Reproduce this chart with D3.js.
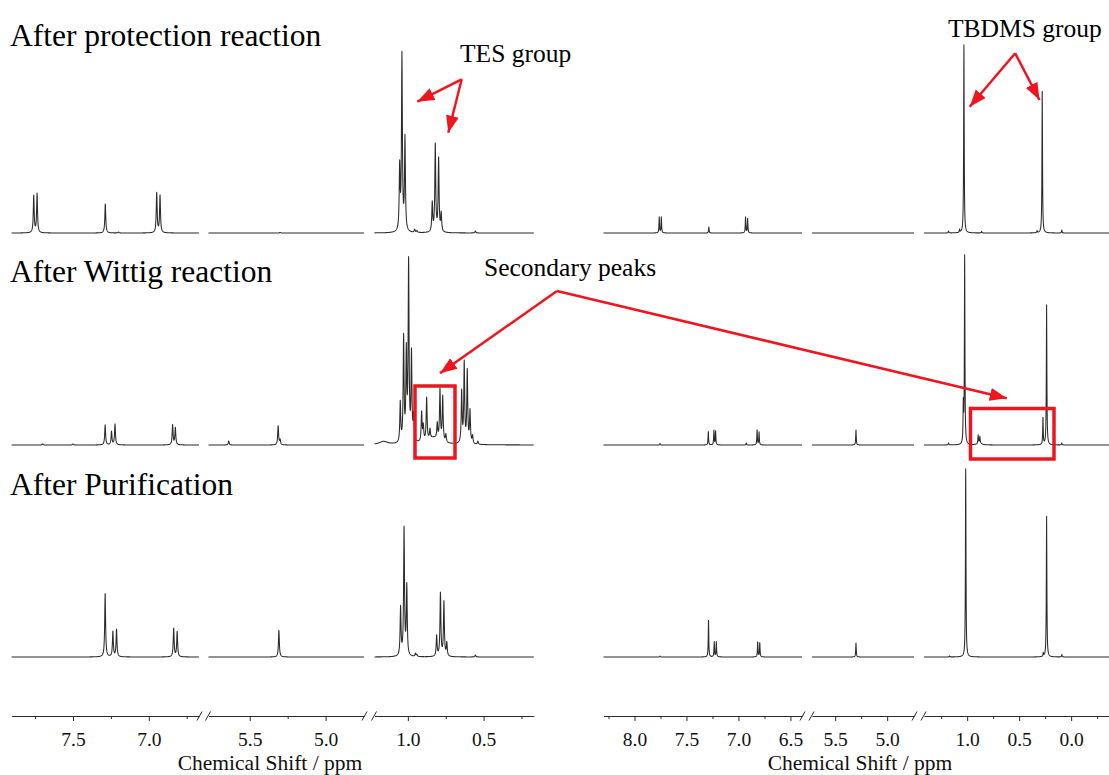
<!DOCTYPE html>
<html><head><meta charset="utf-8">
<script src="https://cdn.jsdelivr.net/npm/d3@7"></script>
<style>body{margin:0;background:#fff} svg{display:block;font-family:"Liberation Serif","Times New Roman",serif}</style>
</head><body><svg id="c" width="1109" height="775"></svg>
<script>
// ---------------- DATA ----------------
const rowTitles = ["After protection reaction", "After Wittig reaction", "After Purification"];
const axisTitle = "Chemical Shift / ppm";

// ppm domains of the broken-axis segments
const leftSegmentDomains  = [[7.905, 6.669], [5.772, 4.747], [1.220, 0.169]];
const rightSegmentDomains = [[8.298, 6.389], [5.723, 4.742], [1.415, -0.364]];

const leftMajorTicks  = [[7.5, 7.0], [5.5, 5.0], [1.0, 0.5]];
const leftMinorTicks  = [[7.75, 7.25, 6.75], [5.25], [0.75, 0.25]];
const rightMajorTicks = [[8.0, 7.5, 7.0, 6.5], [5.5, 5.0], [1.0, 0.5, 0.0]];
const rightMinorTicks = [[8.25, 7.75, 7.25, 6.75], [5.25], [1.25, 0.75, 0.25, -0.25]];

// peaks: [ppm, height (% of full scale), optional half-width in ppm]
const leftProtectionPeaks = [
  [7.759, 19.5], [7.737, 20.5], [7.287, 15.3], [7.20, 0.5], [6.948, 20.9], [6.926, 19.6],
  [5.30, 0.3],
  [1.054, 33.2], [1.039, 92.5], [1.019, 48.9], [0.955, 1.6], [0.94, 1.0],
  [0.839, 15.3], [0.819, 45.8], [0.797, 38.4], [0.780, 9.5], [0.555, 1.0]
];
const leftWittigPeaks = [
  [7.70, 0.6], [7.50, 0.6], [7.288, 10.5], [7.246, 7.0], [7.223, 11.0], [6.843, 10.5], [6.825, 9.0],
  [5.639, 2.1], [5.313, 10.0], [5.300, 2.6],
  [1.16, 1.7, 0.035], [1.050, 21], [1.028, 55], [1.010, 46], [0.995, 94], [0.976, 46], [0.962, 13],
  [0.83, 3.5, 0.05], [0.909, 15.5], [0.898, 8], [0.876, 22.5], [0.854, 5], [0.806, 8], [0.788, 26.5], [0.770, 23.5], [0.749, 4],
  [0.645, 27], [0.628, 42], [0.608, 38], [0.590, 17], [0.573, 4], [0.538, 1.6]
];
const leftPurificationPeaks = [
  [7.288, 33.3], [7.237, 13.2], [7.213, 14.4], [6.836, 14.9], [6.813, 13.2],
  [5.308, 14.0],
  [1.048, 25.4], [1.025, 67.0], [1.007, 36.5], [0.95, 1.6], [0.94, 1.0],
  [0.810, 10.9], [0.785, 33.3], [0.762, 28.6], [0.743, 7.0], [0.555, 1.0]
];
const rightProtectionPeaks = [
  [7.762, 8.3], [7.742, 8.3], [7.285, 3.2], [6.932, 8.4], [6.912, 7.5],
  [1.18, 1.0], [1.072, 1.6], [1.031, 99.1], [0.862, 0.8], [0.328, 1.0], [0.278, 74.6], [0.09, 1.6]
];
const rightWittigPeaks = [
  [7.755, 0.8], [7.290, 7.0], [7.236, 7.6], [7.220, 7.2], [6.925, 1.0], [6.821, 7.9], [6.802, 6.8],
  [5.300, 7.9],
  [1.18, 1.0], [1.037, 20], [1.024, 99.1], [0.894, 4.4], [0.878, 3.2], [0.88, 1.2, 0.02],
  [0.271, 14], [0.236, 73.7], [0.09, 1.0]
];
const rightPurificationPeaks = [
  [7.755, 0.5], [7.288, 19.3], [7.233, 7.9], [7.213, 7.9], [6.815, 7.9], [6.795, 7.4],
  [5.300, 7.4],
  [1.17, 0.5], [1.014, 99.1], [0.268, 1.8], [0.236, 74.0], [0.089, 1.3]
];

// ---------------- LAYOUT ----------------
const svg = d3.select("#c");
const red = "#f0141e";
const ink = "#2b2b2b";
const rowBaselines = [233, 445, 657];
const fullScalePx = 190;
const axisY = 716;

const leftRanges  = [[11.6, 199], [208.5, 364], [374.5, 533.8]];
const rightRanges = [[603.5, 802], [812, 914], [924, 1109]];

function lorentzSum(peaks, x, defW) {
  let s = 0;
  for (const p of peaks) {
    const w = p[2] || defW;
    const d = x - p[0];
    s += p[1] * w * w / (d * d + w * w);
  }
  return s;
}

function drawPanel(domains, ranges, rowsPeaks, major, minor, defW, labelX) {
  const scales = domains.map((d, i) => d3.scaleLinear().domain(d).range(ranges[i]));
  rowsPeaks.forEach((peaks, r) => {
    const ys = d3.scaleLinear().domain([0, 100]).range([rowBaselines[r], rowBaselines[r] - fullScalePx]);
    scales.forEach((xs, i) => {
      const [d0, d1] = xs.domain();
      const n = Math.round((ranges[i][1] - ranges[i][0]) * 5);
      const local = peaks.filter(p => p[0] <= d0 + 0.2 && p[0] >= d1 - 0.2);
      const xsVals = d3.range(n + 1).map(k => d0 + (d1 - d0) * k / n)
        .concat(local.filter(p => p[0] <= d0 && p[0] >= d1).map(p => p[0]))
        .sort((a, b) => b - a);
      const pts = xsVals.map(x => [x, lorentzSum(local, x, defW)]);
      svg.append("path")
        .attr("d", d3.line().x(d => xs(d[0])).y(d => ys(d[1]))(pts))
        .attr("fill", "none").attr("stroke", ink).attr("stroke-width", 1.05)
        .attr("stroke-linejoin", "round");
    });
  });
  // axes
  scales.forEach((xs, i) => {
    const g = svg.append("g").attr("transform", `translate(0,${axisY})`);
    g.call(d3.axisBottom(xs).tickValues(major[i]).tickSize(5).tickSizeOuter(0).tickFormat(d3.format(".1f")));
    g.select(".domain").attr("stroke", ink);
    g.selectAll(".tick line").attr("stroke", ink);
    g.selectAll(".tick text").attr("fill", "#111").attr("font-size", 19.5)
      .attr("font-family", "Liberation Serif, serif").attr("y", 16);
    const gm = svg.append("g").attr("transform", `translate(0,${axisY})`);
    gm.call(d3.axisBottom(xs).tickValues(minor[i]).tickSize(3).tickSizeOuter(0).tickFormat(""));
    gm.select(".domain").remove();
    gm.selectAll(".tick line").attr("stroke", ink);
  });
  // break marks
  for (let i = 0; i < ranges.length - 1; i++) {
    const a = ranges[i][1], b = ranges[i + 1][0];
    [[a - 2, a + 3], [b - 3, b + 2]].forEach(([x0, x1]) => {
      svg.append("line").attr("x1", x0).attr("y1", axisY + 4.5).attr("x2", x1).attr("y2", axisY - 4.5)
        .attr("stroke", ink).attr("stroke-width", 1);
    });
  }
  svg.append("text").attr("x", labelX).attr("y", 770).attr("text-anchor", "middle")
    .attr("font-size", 21.5).attr("fill", "#111").text(axisTitle);
}

drawPanel(leftSegmentDomains, leftRanges,
  [leftProtectionPeaks, leftWittigPeaks, leftPurificationPeaks],
  leftMajorTicks, leftMinorTicks, 0.0035, 270);
drawPanel(rightSegmentDomains, rightRanges,
  [rightProtectionPeaks, rightWittigPeaks, rightPurificationPeaks],
  rightMajorTicks, rightMinorTicks, 0.003, 860);

// row titles
const titleBaselines = [46, 282, 495];
rowTitles.forEach((t, i) => {
  svg.append("text").attr("x", 10).attr("y", titleBaselines[i]).attr("font-size", 31.5).attr("fill", "#000").text(t);
});

// annotations
svg.append("defs").append("marker").attr("id", "ah")
  .attr("viewBox", "0 -7 17 14").attr("refX", 17).attr("refY", 0)
  .attr("markerWidth", 17).attr("markerHeight", 14).attr("markerUnits", "userSpaceOnUse")
  .attr("orient", "auto")
  .append("path").attr("d", "M0,-6.5L17,0L0,6.5Z").attr("fill", red);

function arrow(x0, y0, x1, y1) {
  svg.append("line").attr("x1", x0).attr("y1", y0).attr("x2", x1).attr("y2", y1)
    .attr("stroke", red).attr("stroke-width", 2.5).attr("marker-end", "url(#ah)");
}
function label(x, y, t) {
  svg.append("text").attr("x", x).attr("y", y).attr("font-size", 25.5).attr("fill", "#000").text(t);
}
label(460, 62, "TES group");
arrow(461.7, 79.3, 417.3, 101.7);
arrow(461.7, 79.3, 448.3, 132.7);

label(948, 36.5, "TBDMS group");
arrow(1015.2, 53.3, 969.7, 106.7);
arrow(1015.2, 53.3, 1039.5, 100);

label(484, 276, "Secondary peaks");
arrow(557, 291, 440, 373.3);
arrow(557, 291, 1006.8, 398.3);

svg.append("rect").attr("x", 415).attr("y", 386).attr("width", 40).attr("height", 72)
  .attr("fill", "none").attr("stroke", red).attr("stroke-width", 3.5);
svg.append("rect").attr("x", 970.5).attr("y", 408.5).attr("width", 83.5).attr("height", 50.5)
  .attr("fill", "none").attr("stroke", red).attr("stroke-width", 3.5);
</script></body></html>
